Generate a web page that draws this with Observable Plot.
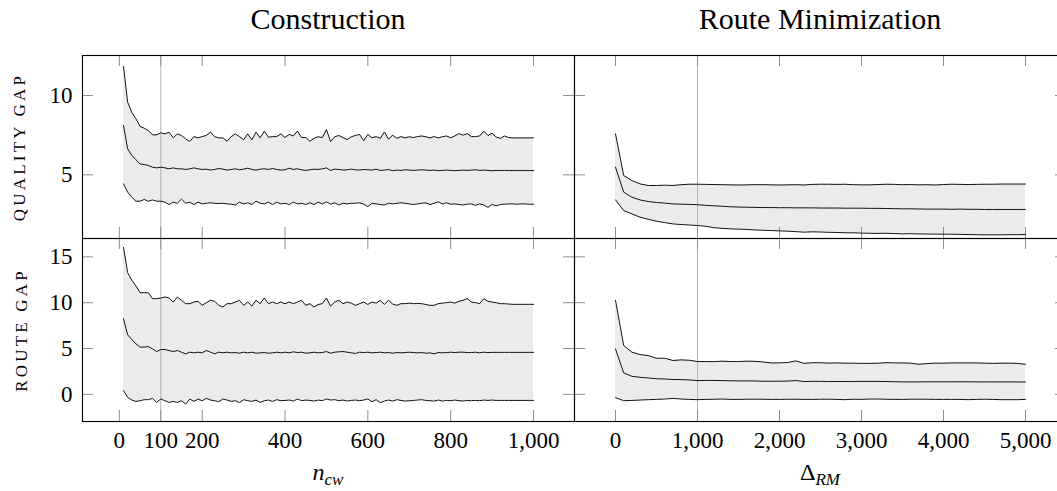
<!DOCTYPE html>
<html>
<head>
<meta charset="utf-8">
<script src="https://cdn.jsdelivr.net/npm/d3@7"></script>
<script src="https://cdn.jsdelivr.net/npm/@observablehq/plot@0.6"></script>
<style>
  html, body { margin: 0; padding: 0; background: #fff; overflow: hidden; }
  #wrap { position: relative; width: 1057px; height: 491px; overflow: hidden; font-family: "Liberation Serif", serif; color: #000; }
  .panel { position: absolute; }
  .title { position: absolute; font-size: 30px; line-height: 30px; white-space: nowrap; transform: translateX(-50%); }
  .ylab { position: absolute; font-size: 17px; letter-spacing: 3.2px; white-space: nowrap; transform: translate(-50%, -50%) rotate(-90deg); }
  .xlab { position: absolute; font-size: 24px; line-height: 24px; white-space: nowrap; transform: translateX(-50%); }
  .xlab sub { font-size: 17px; font-style: italic; vertical-align: -5px; line-height: 0; }
</style>
</head>
<body>
<div id="wrap">
  <div class="title" style="left:328px; top:4px;">Construction</div>
  <div class="title" style="left:820px; top:4px;">Route Minimization</div>
  <div class="ylab" style="left:20px; top:146.5px;">QUALITY GAP</div>
  <div class="ylab" style="left:21.5px; top:329.5px;">ROUTE GAP</div>
  <div class="xlab" style="left:328px; top:460px;"><i>n</i><sub>cw</sub></div>
  <div class="xlab" style="left:820px; top:460px;">Δ<sub>RM</sub></div>
</div>
<script>
// ---------- categories / x values ----------
const xConstruction = [10,20,30,40,50,60,70,80,90,100,110,120,130,140,150,160,170,180,190,200,
  210,220,230,240,250,260,270,280,290,300,310,320,330,340,350,360,370,380,390,400,
  410,420,430,440,450,460,470,480,490,500,510,520,530,540,550,560,570,580,590,600,
  610,620,630,640,650,660,670,680,690,700,710,720,730,740,750,760,770,780,790,800,
  810,820,830,840,850,860,870,880,890,900,910,920,930,940,950,960,970,980,990,1000];
const xRouteMin = [0,100,200,300,400,500,600,700,800,900,1000,1100,1200,1300,1400,1500,1600,1700,1800,1900,
  2000,2100,2200,2300,2400,2500,2600,2700,2800,2900,3000,3100,3200,3300,3400,3500,3600,3700,3800,3900,
  4000,4100,4200,4300,4400,4500,4600,4700,4800,4900,5000];

// ---------- Construction: quality gap ----------
const qcUpper = [11.83,9.58,8.95,8.53,8.05,7.94,7.79,7.52,7.52,7.65,
 7.58,7.69,7.33,7.58,7.48,7.27,7.10,7.41,7.33,7.41,
 7.48,7.69,7.41,7.33,7.33,7.12,7.41,7.58,7.41,7.21,
 7.58,7.21,7.69,7.33,7.75,7.37,7.41,7.41,7.58,7.35,
 7.55,7.45,7.75,7.35,7.35,7.12,7.30,7.40,7.35,7.85,
 7.10,7.40,7.48,7.35,7.22,7.40,7.48,7.55,7.15,7.55,
 7.33,7.41,7.30,7.70,7.25,7.50,7.30,7.41,7.33,7.40,
 7.35,7.41,7.45,7.40,7.33,7.41,7.33,7.40,7.45,7.33,
 7.45,7.60,7.50,7.60,7.41,7.41,7.45,7.75,7.48,7.62,
 7.38,7.30,7.45,7.35,7.33,7.33,7.33,7.33,7.33,7.33];
const qcMedian = [8.11,6.64,6.22,5.95,5.69,5.65,5.59,5.48,5.44,5.48,
 5.44,5.38,5.44,5.38,5.38,5.34,5.38,5.44,5.38,5.34,
 5.36,5.30,5.34,5.40,5.36,5.30,5.34,5.38,5.32,5.36,
 5.42,5.34,5.30,5.36,5.38,5.34,5.40,5.34,5.30,5.32,
 5.42,5.34,5.38,5.32,5.28,5.32,5.36,5.34,5.38,5.44,
 5.28,5.36,5.34,5.30,5.32,5.36,5.32,5.30,5.34,5.32,
 5.30,5.36,5.28,5.30,5.34,5.26,5.30,5.28,5.32,5.30,
 5.28,5.30,5.32,5.30,5.28,5.30,5.26,5.28,5.30,5.28,
 5.26,5.28,5.30,5.28,5.30,5.32,5.28,5.30,5.28,5.26,
 5.28,5.27,5.28,5.27,5.27,5.27,5.27,5.27,5.27,5.27];
const qcLower = [4.43,3.91,3.59,3.34,3.34,3.45,3.34,3.42,3.34,3.34,
 3.28,3.13,3.28,3.21,3.47,3.21,3.28,3.13,3.28,3.17,
 3.21,3.24,3.21,3.19,3.21,3.17,3.15,3.10,3.28,3.17,
 3.24,3.13,3.34,3.21,3.17,3.28,3.13,3.28,3.17,3.21,
 3.13,3.28,3.17,3.21,3.13,3.24,3.13,3.28,3.17,3.30,
 3.15,3.24,3.10,3.21,3.17,3.21,3.21,3.24,3.15,3.00,
 3.21,3.17,3.13,3.10,3.21,3.17,3.21,3.24,3.21,3.17,
 3.13,3.17,3.21,3.24,3.13,3.21,3.30,3.17,3.24,3.15,
 3.17,3.13,3.10,3.15,3.17,3.08,3.17,3.10,2.95,3.13,
 3.05,3.13,3.15,3.17,3.17,3.15,3.17,3.17,3.15,3.15];

// ---------- Construction: route gap ----------
const rcUpper = [16.02,13.28,12.45,11.82,11.09,11.09,11.09,10.44,10.44,10.51,
 10.62,10.51,10.07,10.62,10.26,9.89,9.89,10.07,10.15,9.71,
 10.00,10.26,10.15,9.71,9.53,9.89,9.89,10.07,10.26,9.71,
 10.07,9.63,10.26,9.89,10.51,9.89,10.07,9.89,10.07,9.89,
 10.07,9.89,10.07,10.26,9.71,9.89,9.53,9.80,9.89,10.51,
 9.63,10.07,10.26,9.89,10.07,9.95,9.71,9.89,10.07,9.80,
 10.07,9.95,10.26,9.80,10.26,9.85,9.71,9.89,9.89,9.95,
 9.89,9.92,9.89,9.80,9.71,9.71,9.89,9.95,10.00,10.07,
 9.95,10.15,10.26,10.44,10.07,10.00,9.89,10.44,10.15,10.07,
 10.00,9.89,9.89,9.85,9.82,9.82,9.82,9.82,9.82,9.82];
const rcMedian = [8.25,6.50,5.99,5.51,5.15,5.15,5.22,4.96,4.67,4.89,
 4.89,4.78,4.67,4.78,4.60,4.42,4.60,4.53,4.60,4.53,
 4.78,4.60,4.42,4.60,4.53,4.60,4.53,4.56,4.49,4.60,
 4.53,4.60,4.49,4.53,4.56,4.49,4.53,4.60,4.53,4.60,
 4.53,4.64,4.56,4.60,4.49,4.53,4.60,4.53,4.56,4.67,
 4.49,4.60,4.64,4.67,4.60,4.53,4.46,4.60,4.56,4.60,
 4.53,4.56,4.60,4.53,4.56,4.49,4.56,4.53,4.56,4.60,
 4.56,4.53,4.56,4.49,4.53,4.42,4.56,4.53,4.56,4.60,
 4.56,4.60,4.60,4.56,4.56,4.60,4.53,4.60,4.56,4.58,
 4.58,4.58,4.58,4.58,4.58,4.58,4.58,4.58,4.58,4.58];
const rcLower = [0.40,-0.33,-0.62,-0.77,-0.69,-0.58,-0.58,-0.44,-0.88,-0.51,
 -0.69,-0.88,-0.77,-0.88,-0.69,-1.06,-0.51,-0.77,-0.51,-0.69,
 -0.44,-0.62,-0.69,-0.80,-0.51,-0.62,-0.77,-0.69,-0.91,-0.58,
 -0.69,-0.77,-0.62,-0.88,-0.69,-0.62,-0.77,-0.58,-0.69,-0.66,
 -0.62,-0.73,-0.51,-0.69,-0.62,-0.66,-0.73,-0.62,-0.69,-0.51,
 -0.62,-0.58,-0.69,-0.62,-0.73,-0.66,-0.62,-0.69,-0.62,-0.51,
 -0.80,-0.58,-0.91,-0.73,-0.62,-0.73,-0.58,-0.66,-0.73,-0.69,
 -0.66,-0.62,-0.58,-0.66,-0.69,-0.73,-0.62,-0.73,-0.66,-0.69,
 -0.62,-0.69,-0.73,-0.66,-0.69,-0.66,-0.69,-0.62,-0.66,-0.62,
 -0.66,-0.66,-0.66,-0.66,-0.66,-0.66,-0.66,-0.66,-0.66,-0.66];

// ---------- Route minimization: quality gap ----------
const qrUpper = [7.58,4.96,4.64,4.43,4.33,4.33,4.35,4.33,4.38,4.41,
 4.41,4.40,4.39,4.38,4.37,4.36,4.37,4.38,4.38,4.37,
 4.36,4.37,4.38,4.36,4.40,4.41,4.41,4.40,4.41,4.38,
 4.37,4.37,4.39,4.41,4.40,4.38,4.39,4.37,4.38,4.36,
 4.39,4.41,4.40,4.39,4.40,4.41,4.41,4.42,4.42,4.42,4.42];
const qrMedian = [5.48,3.91,3.59,3.42,3.32,3.26,3.22,3.17,3.15,3.14,
 3.12,3.08,3.05,3.02,2.99,2.97,2.96,2.95,2.94,2.94,
 2.93,2.93,2.92,2.92,2.92,2.91,2.91,2.91,2.90,2.90,
 2.90,2.89,2.89,2.88,2.87,2.86,2.86,2.85,2.84,2.84,
 2.84,2.83,2.84,2.83,2.83,2.82,2.82,2.82,2.82,2.82,2.82];
const qrLower = [3.42,2.75,2.54,2.33,2.20,2.08,1.99,1.91,1.87,1.84,
 1.81,1.76,1.67,1.63,1.60,1.58,1.56,1.53,1.51,1.49,
 1.47,1.45,1.42,1.39,1.41,1.40,1.38,1.37,1.35,1.35,
 1.33,1.32,1.31,1.32,1.30,1.28,1.29,1.28,1.27,1.27,
 1.26,1.26,1.25,1.24,1.23,1.22,1.22,1.22,1.23,1.23,1.24];

// ---------- Route minimization: route gap ----------
const rrUpper = [10.26,5.33,4.60,4.34,4.23,3.94,3.94,3.69,3.76,3.72,
 3.58,3.58,3.57,3.62,3.58,3.58,3.62,3.60,3.53,3.43,
 3.43,3.47,3.65,3.38,3.45,3.45,3.41,3.43,3.40,3.40,
 3.38,3.38,3.40,3.45,3.43,3.43,3.40,3.28,3.36,3.40,
 3.40,3.43,3.43,3.43,3.43,3.40,3.38,3.40,3.40,3.38,3.28];
const rrMedian = [4.96,2.34,1.97,1.86,1.79,1.70,1.68,1.62,1.61,1.57,
 1.50,1.52,1.52,1.50,1.48,1.47,1.47,1.46,1.43,1.43,
 1.43,1.45,1.50,1.40,1.42,1.42,1.40,1.40,1.40,1.41,
 1.41,1.41,1.41,1.40,1.38,1.36,1.36,1.36,1.37,1.37,
 1.37,1.37,1.37,1.37,1.36,1.36,1.36,1.36,1.36,1.35,1.35];
const rrLower = [-0.36,-0.69,-0.66,-0.62,-0.58,-0.55,-0.51,-0.44,-0.51,-0.55,
 -0.58,-0.55,-0.53,-0.51,-0.55,-0.55,-0.53,-0.53,-0.53,-0.55,
 -0.55,-0.53,-0.53,-0.55,-0.55,-0.53,-0.53,-0.55,-0.58,-0.53,
 -0.55,-0.51,-0.51,-0.53,-0.55,-0.55,-0.53,-0.53,-0.53,-0.55,
 -0.55,-0.55,-0.55,-0.58,-0.55,-0.53,-0.55,-0.58,-0.58,-0.58,-0.55];

// ---------- ticks and reference lines ----------
const xTicksConstruction = [0, 100, 200, 400, 600, 800, 1000];
const xTicksRouteMin = [0, 1000, 2000, 3000, 4000, 5000];
const yTicksQuality = [5, 10];
const yTicksRoute = [0, 5, 10, 15];
const refConstruction = [100];
const refRouteMin = [1000];
const xDomainConstruction = [-89, 1099];
const xDomainRouteMin = [-500, 5500];
const yDomainQuality = [0.99, 12.52];
const yDomainRoute = [-2.96, 17.0];

// ---------- layout ----------
const PW = 492, PH = 183, TICK = 11;
const fmt = d3.format(",");

function table(xs, lo, md, hi) {
  return xs.map((x, i) => ({x, lo: lo[i], md: md[i], hi: hi[i]}));
}

function panel({data, xDomain, yDomain, xTicks, yTicks, ref, bottom, left, pos}) {
  const mL = left ? 82 : 2, mR = 2;
  const mT = bottom ? 2 : 10, mB = bottom ? 40 : 2;
  const marks = [
    Plot.areaY(data, {x: "x", y1: "lo", y2: "hi", fill: "#ebebeb"}),
    Plot.ruleX(ref, {stroke: "#b4b4b4", strokeWidth: 1}),
    Plot.tickX(xTicks, {x: d => d, stroke: "#8f8f8f", strokeWidth: 1, insetBottom: PH - TICK}),
    Plot.tickX(xTicks, {x: d => d, stroke: "#8f8f8f", strokeWidth: 1, insetTop: PH - TICK}),
    Plot.tickY(yTicks, {y: d => d, stroke: "#8f8f8f", strokeWidth: 1, insetRight: PW - TICK}),
    Plot.tickY(yTicks, {y: d => d, stroke: "#8f8f8f", strokeWidth: 1, insetLeft: PW - TICK}),
    Plot.lineY(data, {x: "x", y: "hi", stroke: "#111", strokeWidth: 1}),
    Plot.lineY(data, {x: "x", y: "md", stroke: "#111", strokeWidth: 1}),
    Plot.lineY(data, {x: "x", y: "lo", stroke: "#111", strokeWidth: 1}),
    Plot.frame({stroke: "#000", strokeWidth: 1.1})
  ];
  if (left) marks.push(Plot.axisY(yTicks, {anchor: "left", tickSize: 0, tickPadding: 10, fontSize: 23, label: null, tickFormat: fmt}));
  else marks.push(Plot.axisY([], {anchor: "left", tickSize: 0, label: null}));
  if (bottom) marks.push(Plot.axisX(xTicks, {anchor: "bottom", tickSize: 0, tickPadding: 10, fontSize: 23, label: null, tickFormat: fmt}));
  else marks.push(Plot.axisX([], {anchor: "bottom", tickSize: 0, label: null}));
  const chart = Plot.plot({
    width: mL + PW + mR,
    height: mT + PH + mB,
    marginLeft: mL, marginRight: mR, marginTop: mT, marginBottom: mB,
    x: {domain: xDomain},
    y: {domain: yDomain},
    style: {fontFamily: "'Liberation Serif', serif", fontSize: "23px", color: "#000", background: "transparent", overflow: "visible"},
    marks
  });
  chart.classList.add("panel");
  chart.style.left = pos[0] + "px";
  chart.style.top = pos[1] + "px";
  document.getElementById("wrap").appendChild(chart);
}

const topY = 45, botY = 236;
panel({data: table(xConstruction, qcLower, qcMedian, qcUpper), xDomain: xDomainConstruction, yDomain: yDomainQuality,
  xTicks: xTicksConstruction, yTicks: yTicksQuality, ref: refConstruction, bottom: false, left: true, pos: [0, topY]});
panel({data: table(xRouteMin, qrLower, qrMedian, qrUpper), xDomain: xDomainRouteMin, yDomain: yDomainQuality,
  xTicks: xTicksRouteMin, yTicks: yTicksQuality, ref: refRouteMin, bottom: false, left: false, pos: [572, topY]});
panel({data: table(xConstruction, rcLower, rcMedian, rcUpper), xDomain: xDomainConstruction, yDomain: yDomainRoute,
  xTicks: xTicksConstruction, yTicks: yTicksRoute, ref: refConstruction, bottom: true, left: true, pos: [0, botY]});
panel({data: table(xRouteMin, rrLower, rrMedian, rrUpper), xDomain: xDomainRouteMin, yDomain: yDomainRoute,
  xTicks: xTicksRouteMin, yTicks: yTicksRoute, ref: refRouteMin, bottom: true, left: false, pos: [572, botY]});
</script>
</body>
</html>
